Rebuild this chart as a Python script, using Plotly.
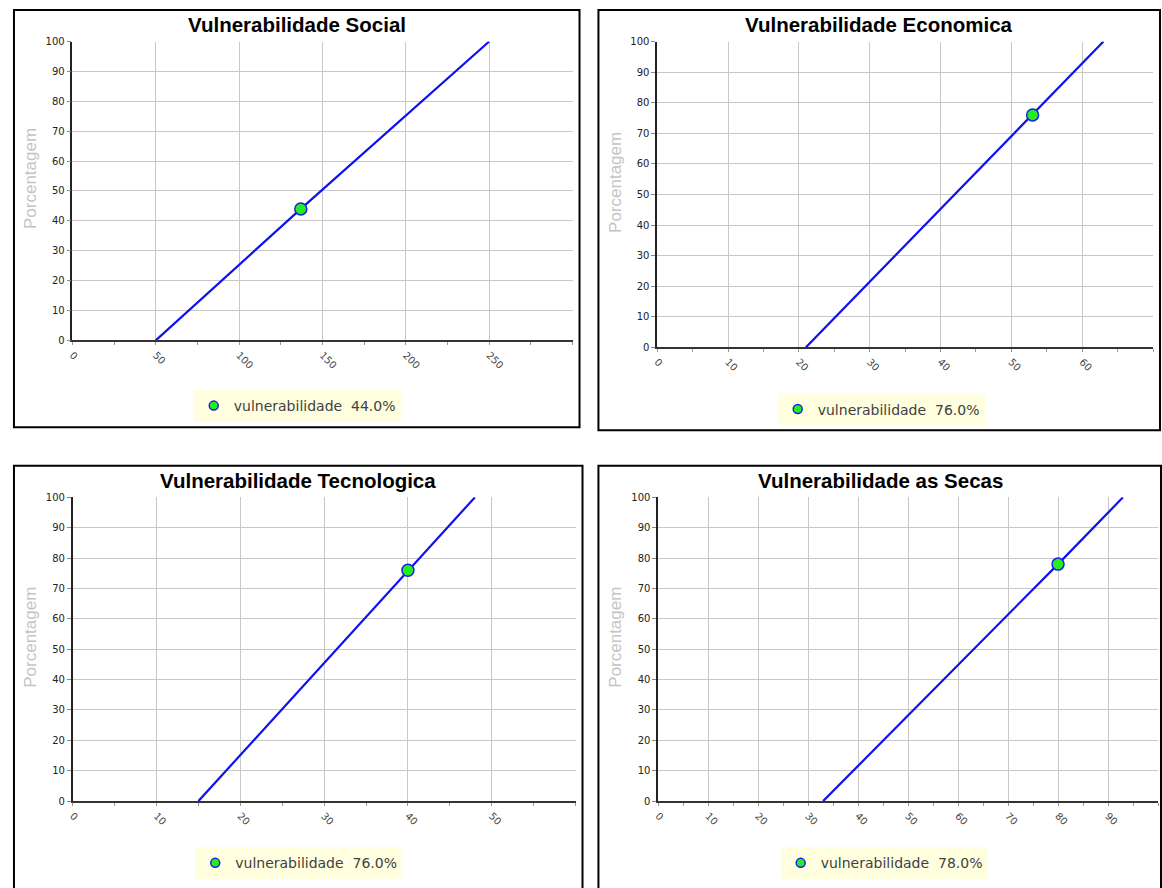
import plotly.graph_objects as go

W, H = 1162, 888

# ---------------- data ----------------
titles = ["Vulnerabilidade Social", "Vulnerabilidade Economica",
          "Vulnerabilidade Tecnologica", "Vulnerabilidade as Secas"]
series_name = "vulnerabilidade"
y_axis_title = "Porcentagem"

social_x = [50, 137, 250]
social_y = [0, 44, 100]
economica_x = [21, 53, 63]
economica_y = [0, 76, 100]
tecnologica_x = [15, 40, 48]
tecnologica_y = [0, 76, 100]
secas_x = [33, 80, 93]
secas_y = [0, 78, 100]

current_x = [137, 53, 40, 80]
current_y = [44.0, 76.0, 76.0, 78.0]

social_xticks = [0, 50, 100, 150, 200, 250, 300]
social_xlabels = ["0", "50", "100", "150", "200", "250", ""]
economica_xticks = [0, 10, 20, 30, 40, 50, 60, 70]
economica_xlabels = ["0", "10", "20", "30", "40", "50", "60", ""]
tecnologica_xticks = [0, 10, 20, 30, 40, 50, 60]
tecnologica_xlabels = ["0", "10", "20", "30", "40", "50", ""]
secas_xticks = [0, 10, 20, 30, 40, 50, 60, 70, 80, 90, 100]
secas_xlabels = ["0", "10", "20", "30", "40", "50", "60", "70", "80", "90", ""]

y_ticks = [0, 10, 20, 30, 40, 50, 60, 70, 80, 90, 100]

lines_x = [social_x, economica_x, tecnologica_x, secas_x]
lines_y = [social_y, economica_y, tecnologica_y, secas_y]
xticks = [social_xticks, economica_xticks, tecnologica_xticks, secas_xticks]
xlabels = [social_xlabels, economica_xlabels, tecnologica_xlabels, secas_xlabels]

# ---------------- layout geometry (pixels) ----------------
panel_boxes = [(9, 4, 577, 427), (596, 4, 1160, 430),
               (9, 466, 580, 895), (596, 466, 1161, 895)]
plot_areas = [(67.7, 36, 570, 339), (655, 36, 1153, 346),
              (68, 498, 573, 806), (656, 498, 1158, 806)]
title_pos = [(293, 19), (878, 19), (294, 481), (879, 481)]
ytitle_pos = [(25.5, 175), (613, 179), (25.5, 640), (613, 640)]
legend_pos = [(293.5, 405.5), (880, 409), (295, 869), (883, 869)]


def px(x):
    return x / W


def py(y):
    return 1 - y / H


fig = go.Figure()
layout = dict(
    width=W, height=H,
    margin=dict(l=0, r=0, t=0, b=0),
    paper_bgcolor="white", plot_bgcolor="white",
    showlegend=True,
    shapes=[], annotations=[],
)

for i in range(4):
    n = "" if i == 0 else str(i + 1)
    xa, ya = "x" + n, "y" + n
    lg = "legend" + n
    x0, y0, x1, y1 = plot_areas[i]
    step = xticks[i][1] - xticks[i][0]
    label = f"{series_name}  {current_y[i]:.1f}%"

    fig.add_trace(go.Scatter(
        x=lines_x[i], y=lines_y[i], mode="lines",
        line=dict(color="#1010f0", width=2.2),
        xaxis=xa, yaxis=ya, showlegend=False, hoverinfo="skip",
        cliponaxis=False,
    ))
    # legend entry (small symbol), hidden under the plotted point
    fig.add_trace(go.Scatter(
        x=[current_x[i]], y=[current_y[i]], mode="markers",
        marker=dict(color="#22ee22", size=9, line=dict(color="#2020e0", width=1.5)),
        name=label, xaxis=xa, yaxis=ya, legend=lg, cliponaxis=False,
        hoverinfo="skip",
    ))
    fig.add_trace(go.Scatter(
        x=[current_x[i]], y=[current_y[i]], mode="markers",
        marker=dict(color="#22ee22", size=12, line=dict(color="#2020e0", width=1.5)),
        name=label, xaxis=xa, yaxis=ya, showlegend=False, cliponaxis=False,
    ))

    layout["xaxis" + n] = dict(
        domain=[px(x0), px(x1)], anchor=ya,
        range=[0, xticks[i][-1]],
        tickmode="array", tickvals=xticks[i], ticktext=xlabels[i],
        tickangle=45,
        tickfont=dict(family="DejaVu Sans", size=10, color="#444"),
        showgrid=True, gridcolor="#c8c8c8", gridwidth=1,
        zeroline=False,
        showline=True, linecolor="#333", linewidth=2,
        ticks="outside", ticklen=3, tickcolor="#999",
        minor=dict(tickmode="linear", tick0=0, dtick=step / 2,
                   ticks="outside", ticklen=3, tickcolor="#999", showgrid=False),
        fixedrange=True,
    )
    layout["yaxis" + n] = dict(
        domain=[py(y1), py(y0)], anchor=xa,
        range=[0, 100],
        tickmode="array", tickvals=y_ticks,
        tickfont=dict(family="DejaVu Sans", size=10, color="#222"),
        showgrid=True, gridcolor="#c8c8c8", gridwidth=1,
        zeroline=False,
        showline=True, linecolor="#222", linewidth=1.5,
        ticks="outside", ticklen=4, tickcolor="#888",
        fixedrange=True,
    )
    lx, ly = legend_pos[i]
    layout[lg] = dict(
        x=px(lx), y=py(ly), xanchor="center", yanchor="middle",
        bgcolor="#ffffe0", borderwidth=0,
        font=dict(family="DejaVu Sans", size=14, color="#404040"),
        itemwidth=30, orientation="h",
    )

    bx0, by0, bx1, by1 = panel_boxes[i]
    layout["shapes"].append(dict(
        type="rect", xref="paper", yref="paper",
        x0=px(bx0), x1=px(bx1), y0=py(by1), y1=py(by0),
        line=dict(color="black", width=2), fillcolor="rgba(0,0,0,0)", layer="below",
    ))
    tx, ty = title_pos[i]
    layout["annotations"].append(dict(
        text=f"<b>{titles[i]}</b>", x=px(tx), y=py(ty), xref="paper", yref="paper",
        xanchor="center", yanchor="middle", showarrow=False,
        font=dict(family="Liberation Sans, Arial", size=20.5, color="black"),
    ))
    ax, ay = ytitle_pos[i]
    layout["annotations"].append(dict(
        text=y_axis_title, x=px(ax), y=py(ay), xref="paper", yref="paper",
        xanchor="center", yanchor="middle", showarrow=False, textangle=-90,
        font=dict(family="Liberation Sans, Arial", size=17, color="#c4c4c4"),
    ))

fig.update_layout(**layout)
fig.write_html("out.html",
               config={"displayModeBar": False},
               post_script="document.body.style.margin='0px';document.body.style.overflow='hidden';")
